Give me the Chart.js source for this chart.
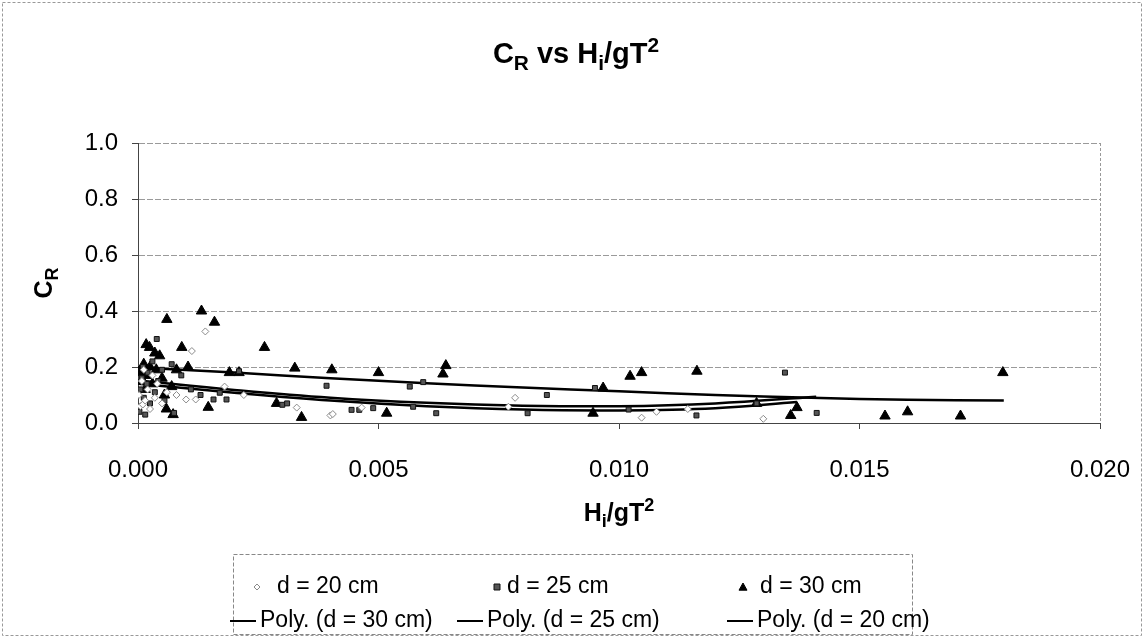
<!DOCTYPE html>
<html>
<head>
<meta charset="utf-8">
<script src="https://cdn.jsdelivr.net/npm/chart.js@4/dist/chart.umd.min.js"></script>
<style>
  body { margin: 0; background: #fff; }
  #wrap { width: 1145px; height: 638px; position: relative; }
</style>
</head>
<body>
<div id="wrap"><canvas id="grafico"></canvas></div>
<script>
// Dados (Hi/gT², CR)
const d20x = [0.00002, 0.00005, 0.00008, 0.0001, 0.00012, 0.00015, 0.0002, 0.00025, 0.0003, 0.00035, 0.0004, 0.0005, 0.0006, 0.0008, 0.001, 0.00112, 0.0012, 0.0014, 0.0018, 0.0022, 0.0033, 0.004, 0.00405, 0.00465, 0.0077, 0.00784, 0.01047, 0.01078, 0.01143, 0.0130];
const d20y = [0.10, 0.06, 0.15, 0.066, 0.19, 0.08, 0.12, 0.05, 0.17, 0.09, 0.14, 0.07, 0.11, 0.10, 0.084, 0.257, 0.084, 0.327, 0.13, 0.10, 0.055, 0.027, 0.032, 0.055, 0.058, 0.09, 0.019, 0.04, 0.05, 0.015];

const d25x = [0.00003, 0.00005, 0.00008, 0.0001, 0.00012, 0.00015, 0.00018, 0.0002, 0.00025, 0.0003, 0.00035, 0.00039, 0.00042, 0.0005, 0.00055, 0.0007, 0.00075, 0.0009, 0.0011, 0.0013, 0.00157, 0.0017, 0.00184, 0.0021, 0.003, 0.0031, 0.00392, 0.00444, 0.0046, 0.00489, 0.00565, 0.00572, 0.00593, 0.0062, 0.0081, 0.0085, 0.0095, 0.0102, 0.01161, 0.01286, 0.01345, 0.01411];
const d25y = [0.04, 0.12, 0.16, 0.20, 0.09, 0.03, 0.14, 0.18, 0.07, 0.22, 0.11, 0.30, 0.15, 0.19, 0.08, 0.21, 0.036, 0.17, 0.12, 0.10, 0.084, 0.108, 0.084, 0.185, 0.065, 0.07, 0.133, 0.047, 0.047, 0.053, 0.13, 0.058, 0.146, 0.035, 0.035, 0.10, 0.125, 0.048, 0.027, 0.07, 0.18, 0.036];

const d30x = [0.00005, 0.0001, 0.00012, 0.00015, 0.00017, 0.0002, 0.00024, 0.00025, 0.0003, 0.00035, 0.00038, 0.00045, 0.0005, 0.00055, 0.0006, 0.00059, 0.0007, 0.00073, 0.0008, 0.00091, 0.00104, 0.00132, 0.00146, 0.00159, 0.0019, 0.0021, 0.00263, 0.00288, 0.00326, 0.0034, 0.00403, 0.0050, 0.00517, 0.00634, 0.0064, 0.00946, 0.00967, 0.01023, 0.01047, 0.01162, 0.01286, 0.01357, 0.0137, 0.01553, 0.0160, 0.0171, 0.01798];
const d30y = [0.18, 0.15, 0.21, 0.12, 0.28, 0.17, 0.27, 0.20, 0.14, 0.25, 0.19, 0.24, 0.16, 0.10, 0.37, 0.05, 0.13, 0.03, 0.19, 0.27, 0.20, 0.40, 0.056, 0.36, 0.18, 0.18, 0.27, 0.07, 0.196, 0.02, 0.19, 0.18, 0.035, 0.175, 0.205, 0.035, 0.125, 0.167, 0.18, 0.185, 0.07, 0.027, 0.055, 0.025, 0.04, 0.025, 0.18];

// Linhas de tendência (Poly.)
const t30x = [0, 0.002, 0.004, 0.006, 0.008, 0.010, 0.012, 0.014, 0.016, 0.018];
const t30y = [0.198, 0.180, 0.160, 0.142, 0.127, 0.113, 0.100, 0.090, 0.083, 0.080];
const t25x = [0, 0.002, 0.004, 0.006, 0.008, 0.010, 0.012, 0.0141];
const t25y = [0.152, 0.118, 0.090, 0.072, 0.062, 0.060, 0.070, 0.094];
const t20x = [0, 0.002, 0.004, 0.006, 0.008, 0.010, 0.012, 0.0137];
const t20y = [0.140, 0.108, 0.080, 0.060, 0.048, 0.045, 0.053, 0.075];

const xTicks = [0, 0.005, 0.010, 0.015, 0.020];
const yTicks = [0, 0.2, 0.4, 0.6, 0.8, 1.0];

const FONT = "'Liberation Sans', Arial, sans-serif";

function pontos(xs, ys) {
  return xs.map((x, i) => ({ x: x, y: ys[i] }));
}

// Texto com subscrito / sobrescrito
function textoRico(ctx, partes, cx, cy, size, bold, rot) {
  const peso = bold ? 'bold ' : '';
  const esc = 0.72;
  let total = 0;
  partes.forEach(p => {
    const s = (p.sub || p.sup) ? size * esc : size;
    ctx.font = peso + s + 'px ' + FONT;
    p.w = ctx.measureText(p.t).width;
    total += p.w;
  });
  ctx.save();
  ctx.translate(cx, cy);
  if (rot) ctx.rotate(rot);
  ctx.fillStyle = '#000';
  ctx.textBaseline = 'alphabetic';
  ctx.textAlign = 'left';
  let x = -total / 2;
  const base = size * 0.36;
  partes.forEach(p => {
    const s = (p.sub || p.sup) ? size * esc : size;
    ctx.font = peso + s + 'px ' + FONT;
    let dy = 0;
    if (p.sub) dy = size * 0.22;
    if (p.sup) dy = -size * 0.40;
    ctx.fillText(p.t, x, base + dy);
    x += p.w;
  });
  ctx.restore();
}

function marcador(ctx, estilo, x, y, r, fundo, borda) {
  ctx.save();
  ctx.fillStyle = fundo;
  ctx.strokeStyle = borda;
  ctx.lineWidth = 1;
  ctx.beginPath();
  if (estilo === 'triangle') {
    ctx.moveTo(x, y - r);
    ctx.lineTo(x + r, y + r * 0.8);
    ctx.lineTo(x - r, y + r * 0.8);
    ctx.closePath();
  } else if (estilo === 'rect') {
    ctx.rect(x - r, y - r, r * 2, r * 2);
  } else {
    ctx.moveTo(x, y - r);
    ctx.lineTo(x + r, y);
    ctx.lineTo(x, y + r);
    ctx.lineTo(x - r, y);
    ctx.closePath();
  }
  ctx.fill();
  ctx.stroke();
  ctx.restore();
}

const extras = {
  id: 'extras',
  afterDraw(chart) {
    const ctx = chart.ctx;
    const a = chart.chartArea;

    // borda da área do gráfico (lado direito)
    ctx.save();
    ctx.strokeStyle = '#999';
    ctx.lineWidth = 1;
    ctx.setLineDash([3, 2]);
    ctx.beginPath();
    ctx.moveTo(a.right + 0.5, a.top);
    ctx.lineTo(a.right + 0.5, a.bottom);
    ctx.stroke();
    // borda externa
    ctx.strokeRect(2.5, 2.5, 1139, 633);
    ctx.restore();

    // títulos
    textoRico(ctx, [{ t: 'C' }, { t: 'R', sub: true }, { t: ' vs H' }, { t: 'i', sub: true }, { t: '/gT' }, { t: '2', sup: true }],
      576, 53, 29, true, 0);
    textoRico(ctx, [{ t: 'C' }, { t: 'R', sub: true }], 43, (a.top + a.bottom) / 2, 25, true, -Math.PI / 2);
    textoRico(ctx, [{ t: 'H' }, { t: 'i', sub: true }, { t: '/gT' }, { t: '2', sup: true }],
      (a.left + a.right) / 2, 512, 25, true, 0);

    // legenda
    ctx.save();
    ctx.strokeStyle = '#888';
    ctx.lineWidth = 1;
    ctx.setLineDash([4, 2]);
    ctx.strokeRect(233.5, 554.5, 679, 80);
    ctx.setLineDash([]);
    ctx.font = '23px ' + FONT;
    ctx.fillStyle = '#000';
    ctx.textBaseline = 'middle';
    const ds = chart.data.datasets;
    const linha1 = [[0, 257, 277], [1, 497, 507], [2, 743, 760]];
    linha1.forEach(([i, mx, tx]) => {
      const d = ds[i];
      marcador(ctx, d.pointStyle, mx, 587, d.pointStyle === 'triangle' ? 4 : 3, d.backgroundColor, d.borderColor);
      ctx.fillText(d.label, tx, 587);
    });
    const linha2 = [[3, 230, 256, 260], [4, 457, 483, 487], [5, 727, 753, 757]];
    linha2.forEach(([i, x1, x2, tx]) => {
      const d = ds[i];
      ctx.strokeStyle = d.borderColor;
      ctx.lineWidth = 2;
      ctx.beginPath();
      ctx.moveTo(x1, 621);
      ctx.lineTo(x2, 621);
      ctx.stroke();
      ctx.fillText(d.label, tx, 621);
    });
    ctx.restore();
  }
};

new Chart(document.getElementById('grafico'), {
  type: 'scatter',
  data: {
    datasets: [
      { label: 'd = 20 cm', data: pontos(d20x, d20y), pointStyle: 'rectRot', pointRadius: 3.5,
        backgroundColor: '#fff', borderColor: '#8a8a8a', borderWidth: 1 },
      { label: 'd = 25 cm', data: pontos(d25x, d25y), pointStyle: 'rect', pointRadius: 3.5,
        backgroundColor: '#555', borderColor: '#111', borderWidth: 1 },
      { label: 'd = 30 cm', data: pontos(d30x, d30y), pointStyle: 'triangle', pointRadius: 6,
        backgroundColor: '#000', borderColor: '#000', borderWidth: 1 },
      { label: 'Poly. (d = 30 cm)', data: pontos(t30x, t30y), showLine: true, pointRadius: 0,
        borderColor: '#000', backgroundColor: '#000', borderWidth: 2.5, tension: 0.4 },
      { label: 'Poly. (d = 25 cm)', data: pontos(t25x, t25y), showLine: true, pointRadius: 0,
        borderColor: '#000', backgroundColor: '#000', borderWidth: 2.5, tension: 0.4 },
      { label: 'Poly. (d = 20 cm)', data: pontos(t20x, t20y), showLine: true, pointRadius: 0,
        borderColor: '#000', backgroundColor: '#000', borderWidth: 2.5, tension: 0.4 }
    ]
  },
  options: {
    responsive: true,
    maintainAspectRatio: false,
    animation: false,
    layout: { padding: { top: 143, right: 45, left: 0, bottom: 0 } },
    plugins: {
      legend: { display: false },
      title: { display: false },
      tooltip: { enabled: false }
    },
    scales: {
      x: {
        type: 'linear',
        min: 0,
        max: 0.02,
        afterBuildTicks(scale) { scale.ticks = xTicks.map(v => ({ value: v })); },
        afterFit(scale) {
          scale.height = 215;
          scale.paddingLeft = 0;
          scale.paddingRight = 0;
        },
        ticks: {
          callback: v => v.toFixed(3),
          font: { family: FONT, size: 24 },
          color: '#000',
          padding: 27,
          maxRotation: 0
        },
        grid: { drawOnChartArea: false, drawTicks: true, tickLength: 6, tickColor: '#444' },
        border: { color: '#444', width: 1 }
      },
      y: {
        type: 'linear',
        min: 0,
        max: 1,
        afterBuildTicks(scale) { scale.ticks = yTicks.map(v => ({ value: v })); },
        afterFit(scale) { scale.width = 138; },
        ticks: {
          callback: v => v.toFixed(1),
          font: { family: FONT, size: 24 },
          color: '#000',
          padding: 14
        },
        grid: { color: '#9a9a9a', lineWidth: 1, tickLength: 6, tickColor: '#444' },
        border: { color: '#444', width: 1, dash: [6, 2] }
      }
    }
  },
  plugins: [extras]
});
</script>
</body>
</html>
